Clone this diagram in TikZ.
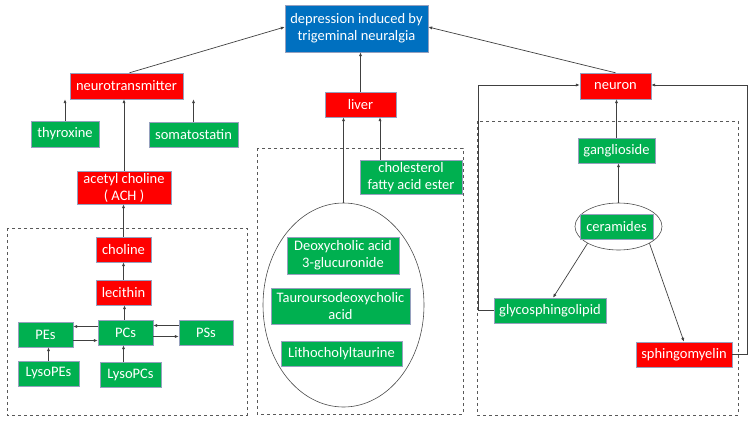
\documentclass[tikz,border=0pt]{standalone}
\usepackage{fontspec}
\setmainfont{Carlito}
\usetikzlibrary{arrows.meta,shapes.geometric}
\definecolor{bred}{RGB}{255,0,0}
\definecolor{bgreen}{RGB}{0,176,80}
\definecolor{bblue}{RGB}{0,112,192}
\definecolor{bedge}{RGB}{150,160,190}
\definecolor{lgray}{RGB}{64,64,64}
\begin{document}
\begin{tikzpicture}[x=1pt,y=-1pt,
  box/.style={draw=bedge,line width=0.45pt,text=white,inner sep=0pt,align=center,
    font=\fontsize{14.5}{17}\selectfont},
  rbox/.style={box,fill=bred},
  gbox/.style={box,fill=bgreen},
  bbox/.style={box,fill=bblue},
  arr/.style={draw=lgray,line width=0.7pt,-{Latex[length=4pt,width=3.2pt]}},
  frame/.style={draw=black!65,dashed,line width=0.6pt},
  ring/.style={draw=black!70,line width=0.6pt,ellipse,inner sep=0pt}]
\useasboundingbox (0,0) rectangle (753,424);
% frames
\draw[frame] (7,228) rectangle (247,415);
\draw[frame] (257,148) rectangle (463,414);
\draw[frame] (477,121) rectangle (738,415);
% top
\node[bbox,minimum width=143,minimum height=47] (dep) at (356.5,28.5) {depression induced by\\trigeminal neuralgia};
% left
\node[rbox,minimum width=113,minimum height=26] (nt) at (126.5,86) {neurotransmitter};
\node[gbox,minimum width=68,minimum height=26] (thy) at (65,134) {thyroxine};
\node[gbox,minimum width=89,minimum height=25] (som) at (193.5,134.5) {somatostatin};
\node[rbox,minimum width=94,minimum height=33] (ach) at (124,187.5) {acetyl choline\\( ACH )};
\node[rbox,minimum width=55,minimum height=25] (cho) at (123.5,249.5) {choline};
\node[rbox,minimum width=55,minimum height=25] (lec) at (123.5,292.5) {lecithin};
\node[gbox,minimum width=55,minimum height=25] (pes) at (45.5,334.5) {PEs};
\node[gbox,minimum width=55,minimum height=25] (pcs) at (125.5,332.5) {PCs};
\node[gbox,minimum width=54,minimum height=25] (pss) at (206,332.5) {PSs};
\node[gbox,minimum width=61,minimum height=25] (lpe) at (48.5,373.5) {LysoPEs};
\node[gbox,minimum width=61,minimum height=25] (lpc) at (130.5,374.5) {LysoPCs};
% middle
\node[rbox,minimum width=71,minimum height=25] (liv) at (360.5,104.5) {liver};
\node[gbox,minimum width=102,minimum height=34] (cfa) at (411,177) {cholesterol\\fatty acid ester};
\node[ring,minimum width=161,minimum height=204] (bile) at (343.5,305) {};
\node[gbox,minimum width=112,minimum height=37] (dca) at (343,255.5) {Deoxycholic acid\\3-glucuronide};
\node[gbox,minimum width=139,minimum height=36] (tud) at (340.5,306) {Tauroursodeoxycholic\\acid};
\node[gbox,minimum width=121,minimum height=25] (lit) at (341.5,353.5) {Lithocholyltaurine};
% right
\node[rbox,minimum width=71,minimum height=26] (neu) at (615.5,86) {neuron};
\node[gbox,minimum width=77,minimum height=25] (gan) at (616.5,150.5) {ganglioside};
\node[ring,minimum width=87,minimum height=47] (cerr) at (618.5,226.5) {};
\node[gbox,minimum width=73,minimum height=25] (cer) at (616.5,227) {ceramides};
\node[gbox,minimum width=112,minimum height=25] (gly) at (550,310.5) {glycosphingolipid};
\node[rbox,minimum width=96,minimum height=25] (sph) at (684,354.5) {sphingomyelin};
% connectors
\draw[arr] ([xshift=3pt]nt.north) -- ([yshift=1.5pt]dep.west);
\draw[arr] (neu.north) -- ([yshift=1.5pt]dep.east);
\draw[arr] (liv.north) -- (liv.north |- dep.south);
\draw[arr] (thy.north) -- (thy.north |- nt.south);
\draw[arr] (som.north) -- (som.north |- nt.south);
\draw[arr] (ach.north) -- (ach.north |- nt.south);
\draw[arr] (cho.north) -- (cho.north |- ach.south);
\draw[arr] (lec.north) -- (lec.north |- cho.south);
\draw[arr] ([xshift=-1pt]pcs.north) -- ([xshift=-1pt]pcs.north |- lec.south);
\draw[arr] ([yshift=-6pt]pes.east) -- ([yshift=-6pt]pes.east -| pcs.west);
\draw[arr] ([yshift=6pt]pcs.west) -- ([yshift=6pt]pcs.west -| pes.east);
\draw[arr] ([yshift=-4pt]pcs.east) -- ([yshift=-4pt]pcs.east -| pss.west);
\draw[arr] ([yshift=7pt]pss.west) -- ([yshift=7pt]pss.west -| pcs.east);
\draw[arr] (lpe.north) -- (lpe.north |- pes.south);
\draw[arr] ([xshift=-7pt]lpc.north) -- ([xshift=-7pt]lpc.north |- pcs.south);
\draw[arr] (bile.north) -- (bile.north |- liv.south);
\draw[arr] ([xshift=-31pt]cfa.north) -- ([xshift=-31pt]cfa.north |- liv.south);
\draw[arr] (cerr.north) -- (cerr.north |- gan.south);
\draw[arr] (gan.north) -- (gan.north |- neu.south);
\draw[arr] (cerr.south west) -- ([xshift=3pt]gly.north);
\draw[arr] (cerr.south east) -- (sph.north);
\draw[arr] (gly.west) -- ++(-15,0) |- ([yshift=1pt]neu.west);
\draw[arr] (sph.east) -- ++(15,0) |- ([yshift=1pt]neu.east);
\end{tikzpicture}
\end{document}
